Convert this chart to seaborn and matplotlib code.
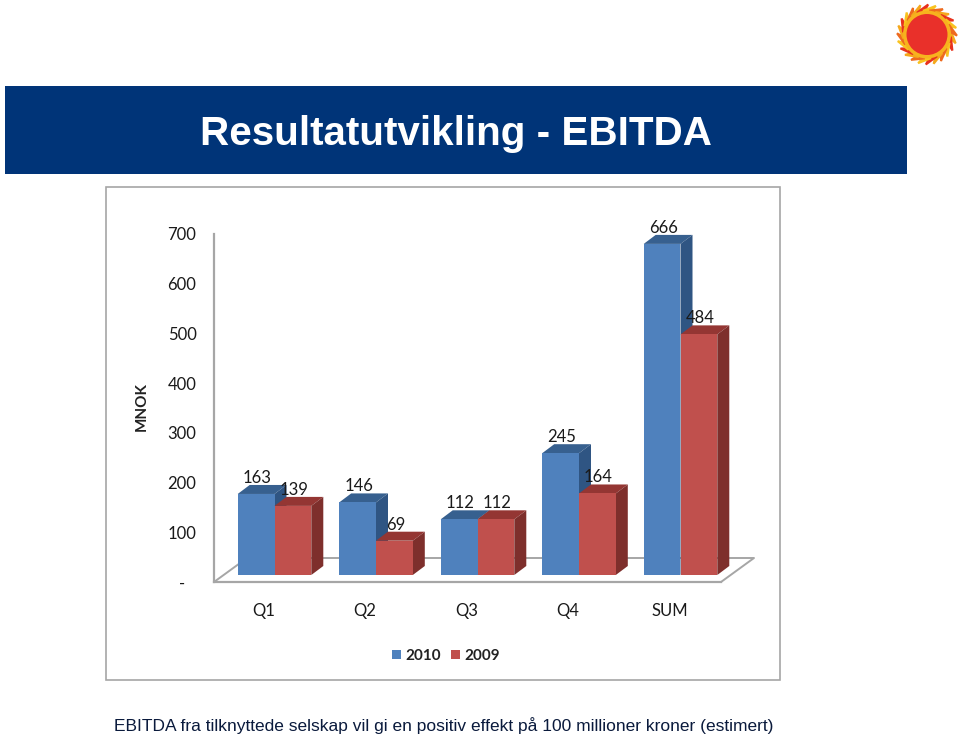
import numpy as np
import pandas as pd
import matplotlib
matplotlib.use("Agg")
import matplotlib.pyplot as plt
from matplotlib.patches import Polygon, Rectangle, Circle
from matplotlib.transforms import ScaledTranslation
import seaborn as sns

categories = ["Q1", "Q2", "Q3", "Q4", "SUM"]
values_2010 = [163, 146, 112, 245, 666]
values_2009 = [139, 69, 112, 164, 484]
series_names = ["2010", "2009"]
y_ticks = [0, 100, 200, 300, 400, 500, 600, 700]
y_labels = ["-", "100", "200", "300", "400", "500", "600", "700"]
title = "Resultatutvikling - EBITDA"
footer = "EBITDA fra tilknyttede selskap vil gi en positiv effekt på 100 millioner kroner (estimert)"

front = ["#4F81BD", "#C0504D"]
top = ["#37608F", "#943633"]
side = ["#2F5583", "#7E2F2C"]
chart_font = ["Lato", "DejaVu Sans"]

W, H = 960, 737
sns.set_theme(style="white")
plt.rcParams["font.family"] = ["Liberation Sans", "DejaVu Sans"]
fig = plt.figure(figsize=(W / 100, H / 100), dpi=100, facecolor="white")

# page layer in pixel coordinates (y down)
bg = fig.add_axes([0, 0, 1, 1], zorder=0)
bg.set_xlim(0, W)
bg.set_ylim(H, 0)
bg.axis("off")
bg.add_patch(Rectangle((5, 86), 902, 88, fc="#003478", ec="none"))
bg.add_patch(Rectangle((106, 187), 674, 493, fc="white", ec="#A6A6A6", lw=1.2))
bg.text(456, 133.5, title, color="white", fontsize=29.1, fontweight="bold",
        ha="center", va="center")
bg.text(444, 725.5, footer, color="#0A1A3C", fontsize=12.53, ha="center", va="center")

# logo
cx, cy = 927, 34.5
ray_cols = ["#F5A81C", "#E8321E", "#F9C31F", "#EE6A1F"]
for i in range(24):
    a = 2 * np.pi * i / 24
    b = a + 0.30
    poly = [(cx + 24 * np.cos(a - 0.17), cy + 24 * np.sin(a - 0.17)),
            (cx + 30 * np.cos(b), cy + 30 * np.sin(b)),
            (cx + 24 * np.cos(a + 0.17), cy + 24 * np.sin(a + 0.17))]
    bg.add_patch(Polygon(poly, fc=ray_cols[i % 4], ec=ray_cols[i % 4], lw=1.5))
bg.add_patch(Circle((cx, cy), 24, fc="#F7B21E", ec="none"))
bg.add_patch(Circle((cx, cy), 20.5, fc="#E9302A", ec="none"))

# floor, behind the chart
fl = fig.add_axes([0, 0, 1, 1], zorder=1)
fl.set_xlim(0, W)
fl.set_ylim(H, 0)
fl.axis("off")
fl.plot([214, 247, 754, 721], [582, 558, 558, 582], color="#A6A6A6", lw=1.4)

# chart axes: y axis at x=214, zero at y=582, 700 at y=234
L, R, B, T = 214, 721, 582, 234
C0, STEP = 274.5, 101.5
ax = fig.add_axes([L / W, 1 - B / H, (R - L) / W, (B - T) / H], zorder=2)
ax.patch.set_alpha(0)
df = pd.DataFrame({
    "category": categories * 2,
    "year": [series_names[0]] * 5 + [series_names[1]] * 5,
    "value": values_2010 + values_2009,
})
sns.barplot(data=df, x="category", y="value", hue="year", palette=front,
            hue_order=series_names, width=0.725, gap=0, saturation=1,
            linewidth=0, edgecolor="none", ax=ax, legend=False, zorder=3)
ax.set_xlim((L - C0) / STEP, (R - C0) / STEP)
ax.set_ylim(0, 700)
ax.set_xlabel("")
ax.set_ylabel("")

# front plane sits 7 px above the floor edge and each bar has a 12x9 px depth
lift = ScaledTranslation(0, 7 / 100, fig.dpi_scale_trans)
dx_px, dy_px = 12, 9
to_px = ax.transData
bars = [p for p in ax.patches]
values = values_2010 + values_2009
order = sorted(range(len(bars)), key=lambda i: bars[i].get_x())
for n, i in enumerate(order):
    p = bars[i]
    col = 0 if i < 5 else 1
    x0, x1 = p.get_x(), p.get_x() + p.get_width()
    h = p.get_height()
    (px0, py0), (px1, py1) = to_px.transform([(x0, 0), (x1, h)])
    py0 += 7
    py1 += 7
    z = 3 + n * 0.01
    p.set_transform(ax.transData + lift)
    p.set_zorder(z + 0.005)
    tp = [(px0, py1), (px1, py1), (px1 + dx_px, py1 + dy_px), (px0 + dx_px, py1 + dy_px)]
    sd = [(px1, py0), (px1 + dx_px, py0 + dy_px), (px1 + dx_px, py1 + dy_px), (px1, py1)]
    ax.add_patch(Polygon(tp, closed=True, fc=top[col], ec="none", transform=None, zorder=z, clip_on=False))
    ax.add_patch(Polygon(sd, closed=True, fc=side[col], ec="none", transform=None, zorder=z, clip_on=False))
    label_x = (px0 + px1) / 2 + 1
    ax.annotate(str(values[i]), xy=(label_x, py1 + dy_px - 1), xycoords="figure pixels",
                ha="center", va="bottom", fontsize=12, color="#1A1A1A",
                family=chart_font, zorder=10, annotation_clip=False)

ax.spines[["top", "right"]].set_visible(False)
ax.spines[["left", "bottom"]].set_color("#A6A6A6")
ax.spines[["left", "bottom"]].set_linewidth(1.6)

ax.set_yticks(y_ticks)
ax.set_yticklabels(y_labels, family=chart_font, fontsize=12, color="#1A1A1A", ha="center")
ax.tick_params(axis="y", length=0, pad=23)
ax.tick_params(axis="x", length=0, pad=15)
shift = ScaledTranslation(-11 / 100, 0, fig.dpi_scale_trans)
for t in ax.get_xticklabels():
    t.set_fontfamily(chart_font)
    t.set_fontsize(12)
    t.set_color("#1A1A1A")
    t.set_transform(t.get_transform() + shift)

bg.text(142, 407, "MNOK", rotation=90, family=chart_font, fontsize=11,
        fontweight="bold", color="#222222", ha="center", va="center", zorder=5)

# legend
lx = [397, 456]
for xp, name, c in zip(lx, series_names, front):
    fl.add_patch(Rectangle((xp - 5, 650), 9, 9, fc=c, ec="none"))
    fl.text(xp + 8, 656, name, family=chart_font, fontsize=11, fontweight="bold",
            color="#222222", ha="left", va="center")

fig.savefig("out.png", dpi=100)
